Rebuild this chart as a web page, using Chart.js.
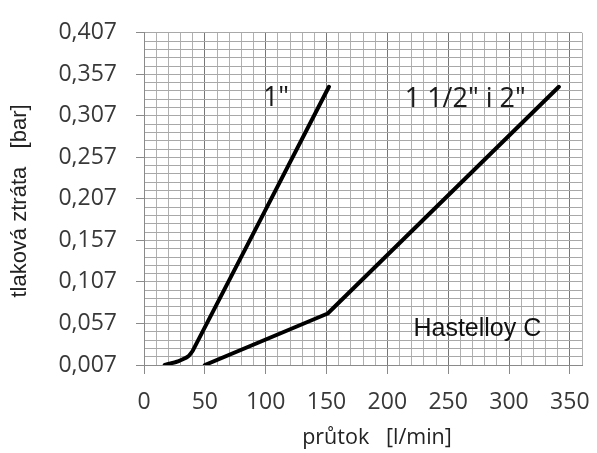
<!DOCTYPE html>
<html>
<head>
<meta charset="utf-8">
<script src="https://cdn.jsdelivr.net/npm/chart.js@4/dist/chart.umd.min.js"></script>
<style>
    html, body { margin: 0; padding: 0; background: #ffffff; }
    #wrap { position: relative; width: 597px; height: 453px; }
</style>
</head>
<body>
<div id="wrap"><canvas id="lossChart"></canvas></div>
<script>
// průtok [l/min] vs. tlaková ztráta [bar], Hastelloy C
const oneInchFlow = [17, 28, 36, 40, 152];
const oneInchLoss = [0.007, 0.0115, 0.017, 0.024, 0.342];
const bigFlow = [50, 151, 341];
const bigLoss = [0.007, 0.069, 0.342];

const xTickValues = [0, 50, 100, 150, 200, 250, 300, 350];
const yTickValues = [0.007, 0.057, 0.107, 0.157, 0.207, 0.257, 0.307, 0.357, 0.407];
const yTickLabels = ["0,007", "0,057", "0,107", "0,157", "0,207", "0,257", "0,307", "0,357", "0,407"];

const xMax = 360;
const minorX = 10;
const minorY = 0.01;

const tickFont = { family: "'Open Sans', sans-serif", size: 23 };

function isMajorY(v) {
    return yTickValues.some((t) => Math.abs(t - v) < 1e-6);
}

function isMajorX(v) {
    return v % 50 === 0;
}

const textPlugin = {
    id: "chartTexts",
    afterDatasetsDraw(chart) {
        const { ctx, scales: { x, y } } = chart;
        ctx.save();
        ctx.fillStyle = "#1a1a1a";
        ctx.textAlign = "center";
        ctx.textBaseline = "middle";
        ctx.font = "27px 'Open Sans', sans-serif";
        ctx.fillText("1\"", x.getPixelForValue(108.5), y.getPixelForValue(0.328));
        ctx.fillText("1 1/2\" i 2\"", x.getPixelForValue(264), y.getPixelForValue(0.327));
        ctx.font = "25px 'Liberation Sans', Arial, sans-serif";
        ctx.fillStyle = "#111111";
        ctx.fillText("Hastelloy C", x.getPixelForValue(274), y.getPixelForValue(0.0503));

        // axis titles
        ctx.fillStyle = "#222222";
        ctx.font = "21.5px 'Open Sans', sans-serif";
        ctx.fillText("průtok   [l/min]", 377, 438);
        ctx.translate(20, 201);
        ctx.rotate(-Math.PI / 2);
        ctx.font = "22px 'Liberation Sans', Arial, sans-serif";
        ctx.fillText("tlaková ztráta   [bar]", 0, 0);
        ctx.restore();
    }
};

const lineStyle = {
    borderColor: "#000000",
    borderWidth: 4,
    pointRadius: 0,
    fill: false,
    borderCapStyle: "round",
    borderJoinStyle: "round"
};

new Chart(document.getElementById("lossChart"), {
    type: "line",
    data: {
        datasets: [
            { label: "1\"", data: oneInchFlow.map((f, i) => ({ x: f, y: oneInchLoss[i] })), ...lineStyle, tension: 0.15 },
            { label: "1 1/2\" i 2\"", data: bigFlow.map((f, i) => ({ x: f, y: bigLoss[i] })), ...lineStyle, tension: 0 }
        ]
    },
    options: {
        responsive: true,
        maintainAspectRatio: false,
        animation: false,
        layout: { padding: { top: 23, right: 12, left: 0, bottom: 0 } },
        plugins: {
            legend: { display: false },
            tooltip: { enabled: false }
        },
        scales: {
            x: {
                type: "linear",
                min: 0,
                max: xMax,
                afterBuildTicks(scale) {
                    const ticks = [];
                    for (let v = 0; v <= xMax; v += minorX) ticks.push({ value: v });
                    scale.ticks = ticks;
                },
                afterFit(scale) { scale.height = 88; },
                grid: {
                    color: (c) => (isMajorX(c.tick.value) ? "#777777" : "#b0b0b0"),
                    tickColor: (c) => (xTickValues.includes(c.tick.value) ? "#8a8a8a" : "rgba(0,0,0,0)"),
                    tickLength: 9,
                    lineWidth: 1
                },
                border: { color: "#8a8a8a" },
                ticks: {
                    autoSkip: false,
                    maxRotation: 0,
                    padding: 15,
                    color: "#383838",
                    font: tickFont,
                    callback: (v) => (xTickValues.includes(v) ? String(v) : "")
                }
            },
            y: {
                type: "linear",
                min: yTickValues[0],
                max: yTickValues[yTickValues.length - 1],
                afterBuildTicks(scale) {
                    const ticks = [];
                    const lo = yTickValues[0];
                    const hi = yTickValues[yTickValues.length - 1];
                    const n = Math.round((hi - lo) / minorY);
                    for (let i = 0; i <= n; i++) ticks.push({ value: +(lo + i * minorY).toFixed(4) });
                    scale.ticks = ticks;
                },
                afterFit(scale) { scale.width = 144; },
                grid: {
                    color: "#a8a8a8",
                    tickColor: (c) => (isMajorY(c.tick.value) ? "#8a8a8a" : "rgba(0,0,0,0)"),
                    tickLength: 8,
                    lineWidth: 1
                },
                border: { color: "#8a8a8a" },
                ticks: {
                    autoSkip: false,
                    padding: 19,
                    color: "#383838",
                    font: tickFont,
                    callback: (v) => {
                        const i = yTickValues.findIndex((t) => Math.abs(t - v) < 1e-6);
                        return i >= 0 ? yTickLabels[i] : "";
                    }
                }
            }
        }
    },
    plugins: [textPlugin]
});
</script>
</body>
</html>
